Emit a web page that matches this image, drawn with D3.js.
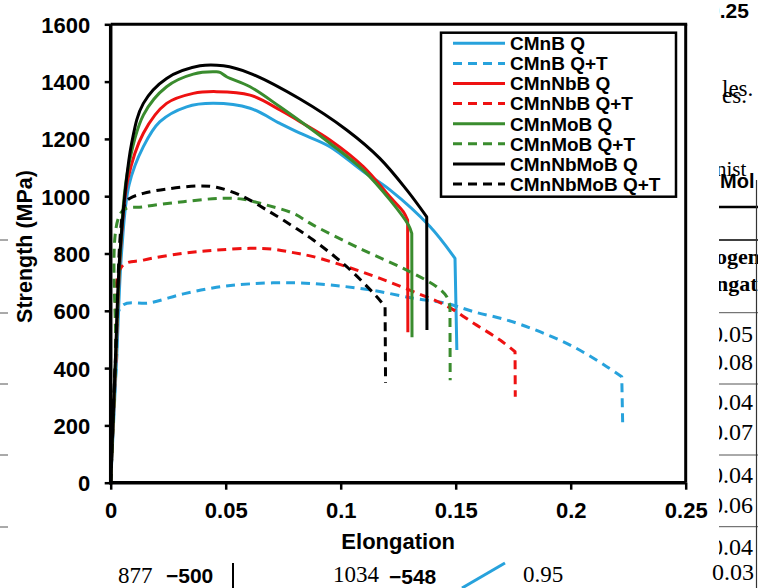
<!DOCTYPE html>
<html><head><meta charset="utf-8">
<script src="https://cdn.jsdelivr.net/npm/d3@7"></script>
<style>body{margin:0;background:#fff}svg{display:block}</style>
</head><body>
<svg id="c" width="758" height="588"></svg>
<script>
// ---- data ----
const seriesNames = ["CMnB Q","CMnB Q+T","CMnNbB Q","CMnNbB Q+T","CMnMoB Q","CMnMoB Q+T","CMnNbMoB Q","CMnNbMoB Q+T"];
const seriesColors = ["#27a2dc","#27a2dc","#ee1111","#ee1111","#3a8c2e","#3a8c2e","#000000","#000000"];
const seriesDashed = [false,true,false,true,false,true,false,true];

const cmnbQ = [[0,0],[0.0025,420],[0.0048,812],[0.008,1040],[0.0142,1173],[0.0214,1260],[0.033,1312],[0.0446,1324],[0.0606,1307],[0.0736,1254],[0.0823,1220],[0.0953,1173],[0.1098,1086],[0.1214,1022],[0.1388,894],[0.1497,783]];
const cmnbQDrop = [0.1505,463];
const cmnbQT = [[0,0],[0.0025,420],[0.0048,617],[0.0171,628],[0.0316,659],[0.046,682],[0.0606,694],[0.0794,698],[0.0953,690],[0.1127,673],[0.1316,644],[0.1461,626],[0.1577,597],[0.1722,568],[0.1866,527],[0.2011,475],[0.2157,405],[0.2222,370]];
const cmnbQTDrop = [0.2226,205];

const cmnnbbQ = [[0,0],[0.0022,420],[0.0043,812],[0.0075,1060],[0.0142,1220],[0.0243,1324],[0.0359,1359],[0.046,1365],[0.0606,1353],[0.0736,1301],[0.0823,1260],[0.0953,1196],[0.1098,1103],[0.1214,998],[0.1272,946],[0.1291,917]];
const cmnnbbQDrop = [0.1292,525];
const cmnnbbQT = [[0,0],[0.0022,420],[0.0048,754],[0.0142,777],[0.0316,801],[0.046,812],[0.0606,818],[0.0707,815],[0.0794,803],[0.0881,789],[0.1026,754],[0.1171,713],[0.1316,667],[0.1461,617],[0.1591,550],[0.1693,498],[0.1758,457]];
const cmnnbbQTDrop = [0.1759,300];

const cmnmobQ = [[0,0],[0.0021,420],[0.0042,812],[0.0072,1080],[0.0142,1283],[0.0243,1382],[0.0359,1426],[0.046,1434],[0.0475,1432],[0.0504,1417],[0.0606,1382],[0.0736,1312],[0.0953,1185],[0.1098,1091],[0.1214,987],[0.1294,900],[0.1309,870]];
const cmnmobQDrop = [0.131,508];
const cmnmobQT = [[0,0],[0.0021,420],[0.0048,946],[0.0142,963],[0.0316,981],[0.049,993],[0.0577,989],[0.0678,969],[0.0794,940],[0.0881,899],[0.1098,812],[0.1287,742],[0.1417,684],[0.1461,649],[0.1475,614]];
const cmnmobQTDrop = [0.1476,358];

const cmnnbmobQ = [[0,0],[0.002,420],[0.0041,812],[0.0091,1185],[0.0142,1324],[0.0243,1411],[0.0388,1455],[0.049,1455],[0.0606,1429],[0.0823,1339],[0.1026,1231],[0.117,1132],[0.1287,1022],[0.1374,928]];
const cmnnbmobQDrop = [0.1375,533];
const cmnnbmobQT = [[0,0],[0.002,420],[0.0062,975],[0.0084,993],[0.0142,1010],[0.0243,1025],[0.0388,1036],[0.046,1031],[0.0562,1004],[0.0678,952],[0.0794,894],[0.0881,847],[0.1026,754],[0.1157,649],[0.1193,614]];
const cmnnbmobQTDrop = [0.1195,348];

const seriesData = [cmnbQ,cmnbQT,cmnnbbQ,cmnnbbQT,cmnmobQ,cmnmobQT,cmnnbmobQ,cmnnbmobQT];
const seriesDrops = [cmnbQDrop,cmnbQTDrop,cmnnbbQDrop,cmnnbbQTDrop,cmnmobQDrop,cmnmobQTDrop,cmnnbmobQDrop,cmnnbmobQTDrop];

const xTicks = [0,0.05,0.1,0.15,0.2,0.25];
const xTickLabels = ["0","0.05","0.1","0.15","0.2","0.25"];
const yTicks = [0,200,400,600,800,1000,1200,1400,1600];
const xTitle = "Elongation";
const yTitle = "Strength (MPa)";

// ---- background fragments of the surrounding page ----
const rightNums = [["0.05",341.7],["0.08",370],["0.04",410],["0.07",440],["0.04",483],["0.06",512.7],["0.04",555]];
const rightLines = [312.7,384,455,526.7];

// ---- drawing ----
const svg = d3.select("#c");
const x = d3.scaleLinear().domain([0,0.25]).range([110.7,685.7]);
const y = d3.scaleLinear().domain([0,1600]).range([482.7,24.3]);
const sans = "'Liberation Sans', Arial, sans-serif";
const serif = "'Liberation Serif', 'DejaVu Serif', serif";

// clutter (page behind)
const bg = svg.append("g").attr("class","clutter");
bg.append("defs").append("clipPath").attr("id","rc").append("rect").attr("x",719).attr("y",0).attr("width",40).attr("height",588);
const rc = bg.append("g").attr("clip-path","url(#rc)");
rc.append("text").attr("x",708).attr("y",18).attr("font-family",sans).attr("font-weight","bold").attr("font-size",21).text("0.25");
rc.append("text").attr("x",722).attr("y",96).attr("font-family",serif).attr("font-size",23).text("les.");
rc.append("text").attr("x",722).attr("y",103).attr("font-family",serif).attr("font-size",23).text("es.");
rc.append("text").attr("x",716).attr("y",176).attr("font-family",serif).attr("font-size",21).text("nist");
rc.append("text").attr("x",720).attr("y",188).attr("font-family",sans).attr("font-weight","bold").attr("font-size",20).text("Mol");
rc.append("line").attr("x1",719).attr("x2",758).attr("y1",207).attr("y2",207).attr("stroke","#000").attr("stroke-width",2.5);
rc.append("line").attr("x1",719).attr("x2",758).attr("y1",240).attr("y2",240).attr("stroke","#000").attr("stroke-width",1.5);
rc.append("text").attr("x",716).attr("y",264).attr("font-family",serif).attr("font-weight","bold").attr("font-size",22).text("ogen");
rc.append("text").attr("x",716).attr("y",291).attr("font-family",serif).attr("font-weight","bold").attr("font-size",22).text("ngat");
rightNums.forEach(d=>rc.append("text").attr("x",711).attr("y",d[1]).attr("font-family",serif).attr("font-size",24).text(d[0]));
rightLines.forEach(v=>rc.append("line").attr("x1",719).attr("x2",758).attr("y1",v).attr("y2",v).attr("stroke","#555").attr("stroke-width",1));
bg.append("line").attr("x1",756.5).attr("x2",756.5).attr("y1",180).attr("y2",588).attr("stroke","#333").attr("stroke-width",1.2);
bg.append("text").attr("x",712).attr("y",580).attr("font-family",serif).attr("font-size",24).text("0.03");
[240,313,384,455,527].forEach(v=>bg.append("line").attr("x1",0).attr("x2",8).attr("y1",v).attr("y2",v).attr("stroke","#555").attr("stroke-width",1));
bg.append("text").attr("x",118).attr("y",583).attr("font-family",serif).attr("font-size",23).text("877");
bg.append("text").attr("x",166).attr("y",583).attr("font-family",sans).attr("font-weight","bold").attr("font-size",21).text("−500");
bg.append("line").attr("x1",233).attr("x2",233).attr("y1",563).attr("y2",588).attr("stroke","#000").attr("stroke-width",2);
bg.append("text").attr("x",333).attr("y",582).attr("font-family",serif).attr("font-size",23).text("1034");
bg.append("text").attr("x",389).attr("y",584).attr("font-family",sans).attr("font-weight","bold").attr("font-size",21).text("−548");
bg.append("line").attr("x1",462).attr("x2",505).attr("y1",588).attr("y2",563).attr("stroke","#27a2dc").attr("stroke-width",3);
bg.append("text").attr("x",523).attr("y",582).attr("font-family",serif).attr("font-size",23).text("0.95");

// axes
const xAxis = svg.append("g").attr("transform",`translate(0,${y(0)})`)
  .call(d3.axisBottom(x).tickValues(xTicks).tickFormat((d,i)=>xTickLabels[i]).tickSize(7));
xAxis.select(".domain").remove();
xAxis.selectAll("line").attr("stroke","#000").attr("stroke-width",2.5);
xAxis.selectAll("text").attr("y",35.3).attr("dy",null).attr("font-family",sans).attr("font-weight","bold").attr("font-size",22).attr("fill","#000");

const yAxis = svg.append("g").attr("transform",`translate(${x(0)},0)`)
  .call(d3.axisLeft(y).tickValues(yTicks).tickFormat(d3.format("d")).tickSize(6));
yAxis.select(".domain").remove();
yAxis.selectAll("line").attr("stroke","#000").attr("stroke-width",2.5);
yAxis.selectAll("text").attr("x",-20.5).attr("dy","0.36em").attr("font-family",sans).attr("font-weight","bold").attr("font-size",22).attr("fill","#000");

// series
const line = d3.line().x(d=>x(d[0])).y(d=>y(d[1])).curve(d3.curveCatmullRom.alpha(0.5));
const lines = svg.append("g").attr("fill","none");
seriesData.forEach((pts,i)=>{
  const dr = seriesDrops[i];
  const p = line(pts) + "L" + x(dr[0]) + "," + y(dr[1]);
  lines.append("path").attr("d",p).attr("stroke",seriesColors[i]).attr("stroke-width",3)
    .attr("stroke-linejoin","round")
    .attr("stroke-dasharray",seriesDashed[i]?"9,6":null);
});

// frame
const fr = svg.append("g").attr("stroke","#000").attr("fill","none");
fr.append("line").attr("x1",x(0)).attr("x2",x(0)).attr("y1",y(1600)).attr("y2",y(0)+1.5).attr("stroke-width",3.5);
fr.append("line").attr("x1",x(0)-1.5).attr("x2",x(0.25)).attr("y1",y(0)).attr("y2",y(0)).attr("stroke-width",3.5);
fr.append("line").attr("x1",x(0)).attr("x2",x(0.25)+1.5).attr("y1",y(1600)).attr("y2",y(1600)).attr("stroke-width",3);
fr.append("line").attr("x1",x(0.25)).attr("x2",x(0.25)).attr("y1",y(1600)).attr("y2",y(0)).attr("stroke-width",3);

// titles
svg.append("text").attr("x",(x(0)+x(0.25))/2).attr("y",549).attr("text-anchor","middle")
  .attr("font-family",sans).attr("font-weight","bold").attr("font-size",22).text(xTitle);
svg.append("text").attr("transform",`translate(32,${(y(0)+y(1600))/2 - 7}) rotate(-90)`).attr("text-anchor","middle")
  .attr("font-family",sans).attr("font-weight","bold").attr("font-size",21.5).text(yTitle);

// legend
const lg = svg.append("g");
lg.append("rect").attr("x",441).attr("y",32.7).attr("width",235).attr("height",164).attr("fill","#fff").attr("stroke","#000").attr("stroke-width",2.5);
seriesNames.forEach((n,i)=>{
  const cy = 43.3 + i*20.1;
  lg.append("line").attr("x1",453).attr("x2",505).attr("y1",cy).attr("y2",cy)
    .attr("stroke",seriesColors[i]).attr("stroke-width",3).attr("stroke-dasharray",seriesDashed[i]?"9,6":null);
  lg.append("text").attr("x",510).attr("y",cy+6.8).attr("font-family",sans).attr("font-weight","bold").attr("font-size",19).text(n);
});
</script>
</body></html>
